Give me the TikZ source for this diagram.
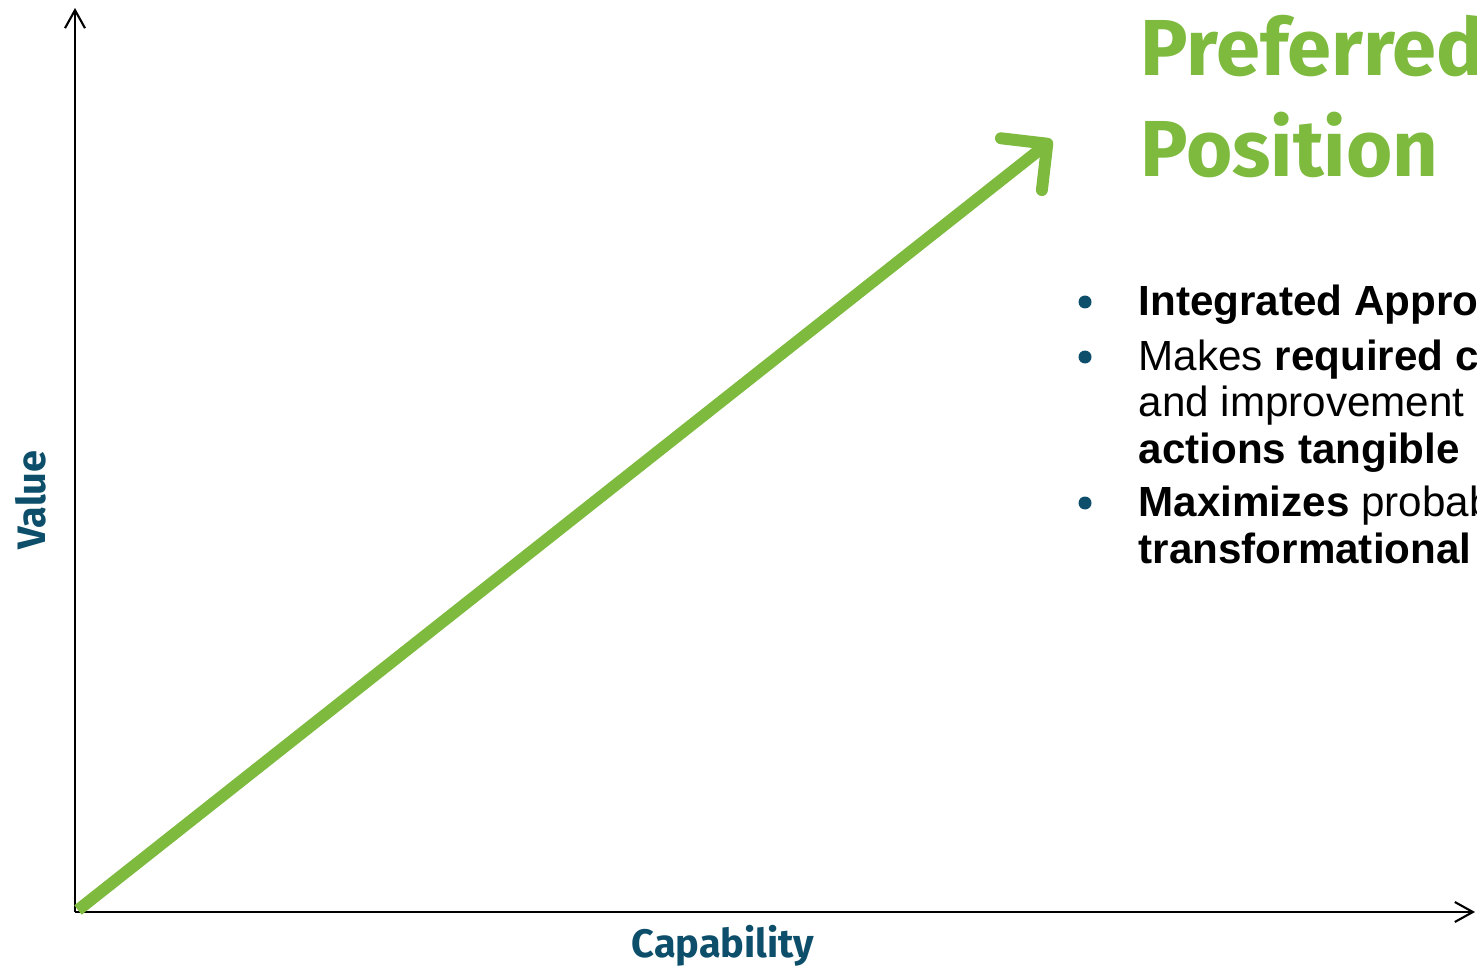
\documentclass[tikz,border=0pt]{standalone}
\usepackage{fontspec}
\setmainfont{Liberation Sans}
\newfontfamily\headfont{Fira Sans}
\usepackage{xcolor}
\usetikzlibrary{positioning, arrows.meta}

\definecolor{leafgreen}{HTML}{7DBA3D}
\definecolor{deepteal}{HTML}{0D4F6B}

\begin{document}
\begin{tikzpicture}[
            axis/.style={line width=0.6pt, -{Straight Barb[length=1.8mm, width=2mm]}},
            growth/.style={leafgreen, line width=3.4pt, -{Straight Barb[length=3.3mm, width=6.6mm, round]}},
            axislabel/.style={deepteal, font=\headfont\bfseries\fontsize{11.3}{13}\selectfont},
            item/.style={anchor=base west, align=left, inner sep=0pt, font=\fontsize{12}{13.1}\selectfont},
            dot/.style={circle, fill=deepteal, inner sep=0pt, minimum size=1.3mm},
        ]
            \useasboundingbox (0,0) rectangle (14.77,9.69);
            % axes
            \coordinate (origin) at (0.75,0.57);
            \coordinate (ytop) at (0.75,9.61);
            \coordinate (xend) at (14.75,0.57);
            \draw[axis] (origin) -- (ytop);
            \draw[axis] (origin) -- (xend);
            \node[axislabel, rotate=90] (value) at (0.31,4.69) {Value};
            \node[axislabel, anchor=base] (capability) at (7.23,0.12) {Capability};
            % trend
            \coordinate (start) at (0.78,0.59);
            \coordinate (goal) at (10.52,8.29);
            \draw[growth] (start) -- (goal);
            % heading (base = last line)
            \node[anchor=base west, align=left, inner sep=0pt, leafgreen,
                font=\headfont\bfseries\fontsize{22.6}{29}\selectfont] (heading) at (11.40,7.92)
                {Preferred\\Position};
            % bullet list (base = last line of each item)
            \node[item] (item1) at (11.38,6.53) {\textbf{Integrated Appro}};
            \node[item] (item2) at (11.38,5.06) {Makes \textbf{required c}\\and improvement\\\textbf{actions tangible}};
            \node[item] (item3) at (11.38,4.06) {\textbf{Maximizes} probab\\\textbf{transformational}};
            \node[dot] (dot1) at ([xshift=-5.3mm, yshift=1.4mm]item1.base west) {};
            \node[dot] (dot2) at ([xshift=-5.3mm, yshift=10.6mm]item2.base west) {};
            \node[dot] (dot3) at ([xshift=-5.3mm, yshift=6.0mm]item3.base west) {};
        \end{tikzpicture}
\end{document}
